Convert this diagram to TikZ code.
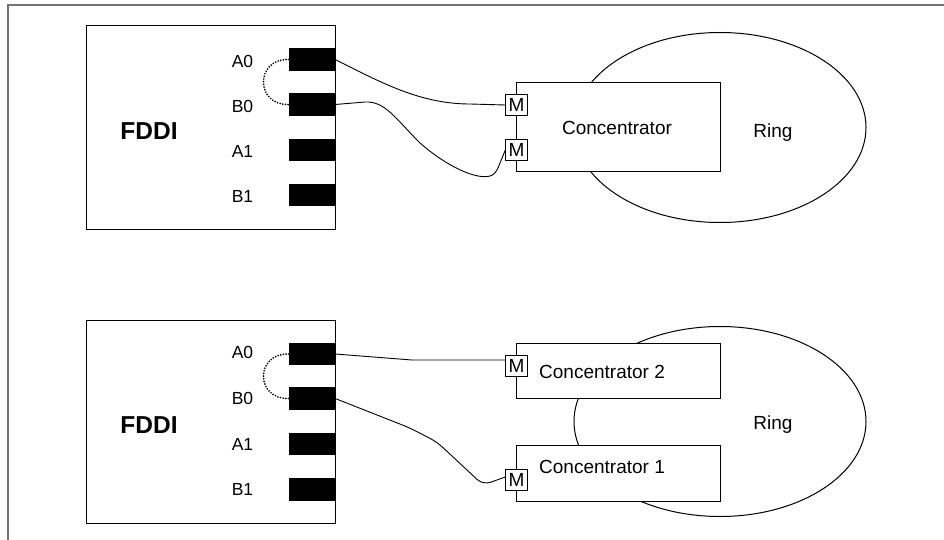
\documentclass[tikz,border=0pt]{standalone}
\usepackage{fontspec}
\setmainfont{Liberation Sans}
\usetikzlibrary{shapes.geometric}
\begin{document}
\begin{tikzpicture}[x=1pt,y=-1pt,
  box/.style={draw, line width=1pt, fill=white, inner sep=0pt},
  port/.style={fill=black, inner sep=0pt, minimum width=46pt, minimum height=22.5pt},
  mbox/.style={draw, line width=0.9pt, fill=white, inner sep=0pt, minimum size=21.5pt, font=\fontsize{19}{19}\selectfont},
  lbl/.style={font=\fontsize{17.5}{18}\selectfont, inner sep=0pt},
  big/.style={font=\fontsize{24.5}{25}\selectfont\bfseries, inner sep=0pt},
  txt/.style={font=\fontsize{19}{20}\selectfont, inner sep=0pt},
  wire/.style={line width=0.9pt},
  loop/.style={line width=1.9pt, dash pattern=on 0pt off 2.7pt, line cap=round},
  ring/.style={draw, line width=1pt, ellipse, minimum width=292pt, minimum height=190pt, inner sep=0pt}]
\useasboundingbox (0,0) rectangle (944,540);
\draw[line width=1.5pt, color=black!55] (8,540) -- (8,5) -- (944,5);

% ---------- top ----------
\node[ring] (ring1) at (720,127.5) {};
\node[txt] (ringt1) at (773,133) {Ring};
\node[box, minimum width=249pt, minimum height=203pt] (fddi1) at (210.5,127.5) {};
\node[big] (f1) at (149,131) {FDDI};
\node[port] (a01) at (312,59.5) {};
\node[port] (b01) at (312,104.5) {};
\node[port] (a11) at (312,150) {};
\node[port] (b11) at (312,195) {};
\node[lbl] (la01) at (242.5,61) {A0};
\node[lbl] (lb01) at (242.5,106) {B0};
\node[lbl] (la11) at (242.5,151.5) {A1};
\node[lbl] (lb11) at (242.5,196.5) {B1};
\node[box, minimum width=204pt, minimum height=89pt] (conc) at (618,127.5) {};
\node[txt] (conct) at (617,128) {Concentrator};
\node[mbox] (m1) at (516.5,105) {M};
\node[mbox] (m2) at (516.5,150) {M};
\draw[loop] (a01.west) .. controls (255,58.5) and (255,105.5) .. (b01.west);
\draw[wire] (a01.east) .. controls (380,82) and (420,104) .. (470,104) -- (m1.west);
\draw[wire] (b01.east) -- (365,102) .. controls (385,101) and (395,118) .. (420,143)
  .. controls (445,165) and (475,180) .. (490,176) .. controls (494,175) and (496,172) .. (498,168) -- (m2.west);

% ---------- bottom ----------
\node[ring] (ring2) at (720,421.5) {};
\node[txt] (ringt2) at (773,425) {Ring};
\node[box, minimum width=249pt, minimum height=203pt] (fddi2) at (210.5,422) {};
\node[big] (f2) at (149,425) {FDDI};
\node[port] (a02) at (312,354) {};
\node[port] (b02) at (312,398.5) {};
\node[port] (a12) at (312,444) {};
\node[port] (b12) at (312,489.5) {};
\node[lbl] (la02) at (242.5,352) {A0};
\node[lbl] (lb02) at (242.5,398) {B0};
\node[lbl] (la12) at (242.5,444) {A1};
\node[lbl] (lb12) at (242.5,489) {B1};
\node[box, minimum width=204pt, minimum height=55pt] (conc2) at (618,370.5) {};
\node[txt, anchor=west] (conc2t) at (539,372) {Concentrator 2};
\node[box, minimum width=204pt, minimum height=56pt] (conc1) at (618,473) {};
\node[txt, anchor=west] (conc1t) at (539,467) {Concentrator 1};
\node[mbox] (m3) at (516.5,366) {M};
\node[mbox] (m4) at (516.5,480) {M};
\draw[loop] (a02.west) .. controls (255,353) and (255,399.5) .. (b02.west);
\draw[wire] (a02.east) -- (412,360) -- ([yshift=6pt]m3.west);
\draw[wire, rounded corners=8pt] (b02.east) -- (410,428) -- (437,442) -- (483,485) -- ([yshift=3pt]m4.west);
\end{tikzpicture}
\end{document}
